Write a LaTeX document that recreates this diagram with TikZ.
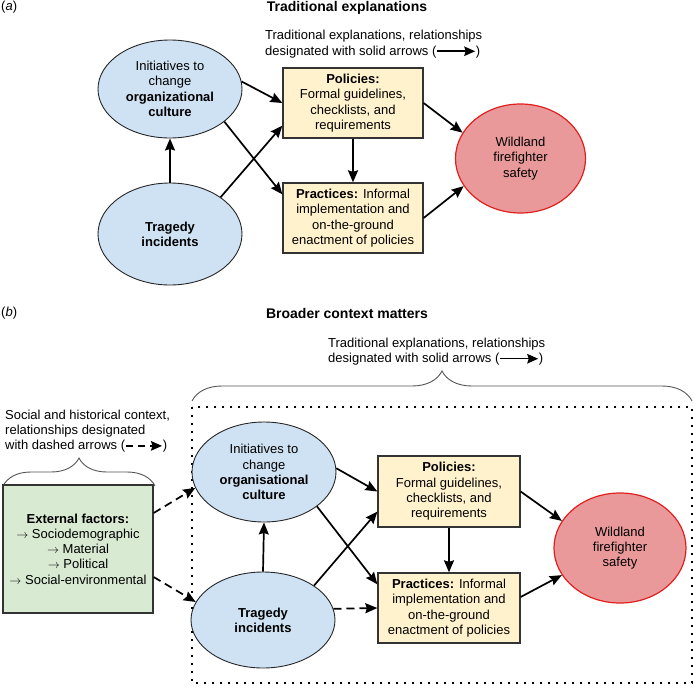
\documentclass[tikz,border=0pt]{standalone}
\usepackage{fontspec}
\setmainfont{Liberation Sans}
\usetikzlibrary{shapes.geometric,arrows.meta,decorations.pathreplacing}
\definecolor{bluefill}{HTML}{CFE2F3}
\definecolor{yelfill}{HTML}{FFF2CC}
\definecolor{redfill}{HTML}{EA999A}
\definecolor{redline}{HTML}{E0201E}
\definecolor{greenfill}{HTML}{D9EAD3}
\definecolor{bracegray}{HTML}{555555}
\newcommand{\solidarr}{\tikz[baseline=-0.55ex]\draw[line width=1.5pt,-{Stealth[length=11pt,width=9.5pt,inset=1.5pt]}] (0pt,0pt) -- (38pt,0pt);}
\newcommand{\dasharr}{\tikz[baseline=-0.55ex]\draw[line width=1.8pt,dash pattern=on 7pt off 5pt,-{Stealth[length=11pt,width=9.5pt,inset=1.5pt]}] (0pt,0pt) -- (36pt,0pt);}
\tikzset{
  txt/.style={font=\fontsize{13}{15.3}\selectfont, inner sep=0pt},
  ttl/.style={font=\fontsize{14}{17}\selectfont\bfseries, inner sep=0pt},
  blueell/.style={ellipse, draw=black!85, line width=0.9pt, fill=bluefill, minimum width=144pt, minimum height=98pt, inner sep=0pt, align=center, txt},
  yelbox/.style={rectangle, draw=black!80, line width=1.3pt, fill=yelfill, minimum width=140pt, minimum height=70pt, inner sep=0pt, align=center, txt},
  redell/.style={ellipse, draw=redline, line width=1.2pt, fill=redfill, minimum width=130pt, minimum height=109pt, inner sep=0pt, align=center, txt},
  greenbox/.style={rectangle, draw=black!80, line width=1.3pt, fill=greenfill, minimum width=150pt, minimum height=128pt, inner sep=0pt, align=center, txt},
  arr/.style={line width=1.7pt, -{Stealth[length=12pt,width=10pt,inset=1.5pt]}},
  darr/.style={arr, dash pattern=on 8pt off 5pt},
  bracestyle/.style={draw=bracegray, line width=0.9pt, decorate},
  dotbox/.style={line width=2pt, dash pattern=on 2pt off 6pt},
}
\begin{document}
\begin{tikzpicture}[x=1pt,y=1pt]
\useasboundingbox (0,0) rectangle (694,-686);

% ---------------- (a) ----------------
\node[txt, anchor=west] (la) at (1,-7) {(\textit{a})};
\node[ttl] (ta) at (347,-8) {Traditional explanations};
\node[txt, anchor=west, align=left] (na) at (265,-44) {Traditional explanations, relationships\\designated with solid arrows (\solidarr)};

\node[blueell, minimum height=98pt] (init) at (170,-89) {Initiatives to\\change\\\textbf{organizational}\\\textbf{culture}};
\node[blueell, minimum height=102pt] (trag) at (170,-234) {\textbf{Tragedy}\\\textbf{incidents}};
\node[yelbox] (pol) at (353,-103) {\textbf{Policies:}\\Formal guidelines,\\checklists, and\\requirements};
\node[yelbox] (prac) at (353,-218) {\textbf{Practices:} Informal\\implementation and\\on-the-ground\\enactment of policies};
\node[redell] (wild) at (520.5,-158.5) {Wildland\\firefighter\\safety};

\draw[arr] (init.6) -- (pol.west);
\draw[arr] (init.-31) -- ([yshift=-12pt]prac.north west);
\draw[arr] (trag.north) -- (init.south);
\draw[arr] (trag.36) -- ([yshift=13pt]pol.south west);
\draw[arr] (pol.south) -- (prac.north);
\draw[arr] (pol.east) -- (wild.156);
\draw[arr] (prac.east) -- (wild.206);

% ---------------- (b) ----------------
\node[txt, anchor=west] (lb) at (1,-313) {(\textit{b})};
\node[ttl] (tb) at (347,-313) {Broader context matters};
\node[txt, anchor=west, align=left] (nb) at (328,-351.5) {Traditional explanations, relationships\\designated with solid arrows (\solidarr)};
\node[txt, anchor=west, align=left] (nc) at (5,-431) {Social and historical context,\\relationships designated\\with dashed arrows (\dasharr)};

\draw[bracestyle, decoration={brace, amplitude=30pt, aspect=0.5}] (192,-401) -- (692,-401);
\draw[bracestyle, decoration={brace, amplitude=28pt, aspect=0.5}] (3,-486) -- (155,-486);

\draw[dotbox] (192,-407) rectangle (692,-683);

\node[greenbox] (ext) at (78,-549) {\textbf{External factors:}\\$\rightarrow$ Sociodemographic\\$\rightarrow$ Material\\$\rightarrow$ Political\\$\rightarrow$ Social-environmental};
\node[blueell, minimum height=100pt] (binit) at (264,-472) {Initiatives to\\change\\\textbf{organisational}\\\textbf{culture}};
\node[blueell, minimum height=96pt] (btrag) at (263,-620) {\textbf{Tragedy}\\\textbf{incidents}};
\node[yelbox, minimum width=142pt, minimum height=71pt] (bpol) at (449,-491.5) {\textbf{Policies:}\\Formal guidelines,\\checklists, and\\requirements};
\node[yelbox, minimum width=142pt] (bprac) at (449,-608) {\textbf{Practices:} Informal\\implementation and\\on-the-ground\\enactment of policies};
\node[redell, minimum width=132pt, minimum height=110pt] (bwild) at (620,-548) {Wildland\\firefighter\\safety};

\draw[arr] (binit.3) -- (bpol.west);
\draw[arr] (binit.-33) -- ([yshift=-12pt]bprac.north west);
\draw[arr] (btrag.north) -- (binit.south);
\draw[arr] (btrag.34) -- ([yshift=16pt]bpol.south west);
\draw[darr] (btrag.9) -- (bprac.west);
\draw[arr] (bpol.south) -- (bprac.north);
\draw[arr] (bpol.east) -- (bwild.155);
\draw[arr] ([yshift=11pt]bprac.east) -- (bwild.205);
\draw[darr] ([yshift=36pt]ext.east) -- (binit.193);
\draw[darr] ([yshift=-28pt]ext.east) -- (btrag.165);
\end{tikzpicture}
\end{document}
